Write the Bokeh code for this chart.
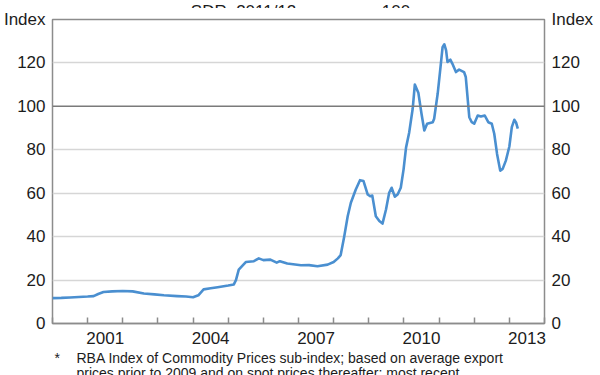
from bokeh.plotting import figure
from bokeh.models import FixedTicker, CustomJSTickFormatter, LinearAxis, Span, Label, Range1d
from bokeh.layouts import column
from bokeh.embed import file_html
from bokeh.resources import INLINE

# ---- data (decimal year, index SDR 2011/12 avg = 100) ----
dates = [2000.00, 2000.25, 2000.50, 2000.75, 2001.00, 2001.17, 2001.30, 2001.45, 2001.70, 2002.00,
         2002.28, 2002.60, 2002.90, 2003.17, 2003.55, 2003.80, 2004.00, 2004.15, 2004.30, 2004.50,
         2004.70, 2005.00, 2005.16, 2005.22, 2005.30, 2005.50, 2005.73, 2005.87, 2006.00, 2006.20,
         2006.38, 2006.47, 2006.68, 2007.07, 2007.30, 2007.54, 2007.83, 2008.00, 2008.12, 2008.20,
         2008.30, 2008.40, 2008.49, 2008.63, 2008.75, 2008.85, 2008.97, 2009.04, 2009.10, 2009.20,
         2009.30, 2009.39, 2009.49, 2009.58, 2009.65, 2009.74, 2009.82, 2009.91, 2009.99, 2010.06,
         2010.15, 2010.25, 2010.31, 2010.41, 2010.50, 2010.58, 2010.66, 2010.82, 2010.86, 2010.96,
         2011.04, 2011.10, 2011.15, 2011.20, 2011.24, 2011.32, 2011.38, 2011.48, 2011.57, 2011.71,
         2011.76, 2011.86, 2011.93, 2012.00, 2012.10, 2012.19, 2012.30, 2012.40, 2012.50, 2012.57,
         2012.65, 2012.74, 2012.81, 2012.90, 2013.00, 2013.07, 2013.14, 2013.19, 2013.24]
index = [11.7, 11.8, 12.0, 12.2, 12.4, 12.6, 13.6, 14.5, 14.8, 15.0,
         14.8, 13.8, 13.4, 13.0, 12.6, 12.4, 12.1, 13.0, 15.7, 16.2,
         16.7, 17.5, 18.0, 20.0, 24.8, 28.3, 28.7, 30.0, 29.2, 29.4,
         28.0, 28.7, 27.6, 26.8, 26.9, 26.4, 27.1, 28.3, 30.0, 31.5,
         40.0, 49.4, 55.6, 61.7, 66.0, 65.6, 59.4, 58.6, 58.9, 49.4,
         47.2, 46.0, 52.5, 60.2, 62.5, 58.4, 59.4, 62.5, 71.0, 81.0,
         88.0, 99.0, 110.0, 106.3, 96.6, 88.9, 92.0, 92.7, 94.3, 105.8,
         118.0, 127.3, 128.6, 125.8, 120.4, 121.5, 119.6, 115.8, 116.9, 115.8,
         113.5, 95.0, 92.7, 92.0, 95.8, 95.3, 95.8, 92.7, 92.0, 87.4,
         78.1, 70.4, 71.2, 75.0, 81.5, 90.4, 93.8, 92.6, 89.7]

year_boundaries = list(range(2000, 2015))
year_labels = [2001, 2004, 2007, 2010, 2013]
y_ticks = [0, 20, 40, 60, 80, 100, 120, 140]
y_grid = [20, 40, 60, 80, 120]
reference_level = 100
title_text = "SDR, 2011/12 average = 100"
foot_star = "*"
foot_lines = ["RBA Index of Commodity Prices sub-index; based on average export",
              "prices prior to 2009 and on spot prices thereafter; most recent"]

FONT = "Liberation Sans"
TXT = "#1c1c1c"
GRAY = "#8c8c8c"
W = 600


def text_strip(height):
    f = figure(width=W, height=height, output_backend="svg", toolbar_location=None,
               x_range=Range1d(0, 1), y_range=Range1d(0, 1),
               x_axis_location=None, y_axis_location=None,
               min_border=0, min_border_left=0, min_border_right=0, min_border_top=0, min_border_bottom=0)
    f.grid.visible = False
    f.outline_line_color = None
    f.background_fill_color = "white"
    f.border_fill_color = "white"
    return f


def note(fig, x, y, text, size, align="left"):
    # x, y in pixels from the (column-aligned) plot frame's left / bottom edge
    fig.add_layout(Label(x=x, y=y, x_units="screen", y_units="screen", text=text,
                         text_align=align, text_baseline="alphabetic",
                         text_font=FONT, text_font_size=size, text_color=TXT))


# ---- top strip: title, cut at the top as in the original ----
top = text_strip(8)
note(top, 248, 1, title_text, "17px", align="center")

# ---- main chart ----
p = figure(width=W, height=339, output_backend="svg", toolbar_location=None,
           x_range=Range1d(2000, 2014), y_range=Range1d(0, 140),
           min_border_left=52, min_border_right=56, min_border_top=11, min_border_bottom=24,
           x_axis_location=None, y_axis_location=None)
p.background_fill_color = "white"
p.border_fill_color = "white"
p.outline_line_color = GRAY
p.outline_line_width = 1.5

p.xgrid.visible = False
p.ygrid.ticker = FixedTicker(ticks=y_grid)
p.ygrid.grid_line_color = "#d6d6d6"
p.ygrid.grid_line_width = 1.5
p.add_layout(Span(location=reference_level, dimension="width", line_color="#7a7a7a", line_width=1.5))

# bottom axis: labels at mid-year, inner tick marks at year boundaries
xax = LinearAxis(ticker=FixedTicker(ticks=[y + 0.5 for y in year_labels], minor_ticks=year_boundaries),
                 formatter=CustomJSTickFormatter(code="return Math.floor(tick).toString();"))
xax.axis_line_color = GRAY
xax.axis_line_width = 1.5
xax.major_tick_line_color = None
xax.minor_tick_in = 6
xax.minor_tick_out = 0
xax.minor_tick_line_color = GRAY
xax.minor_tick_line_width = 1.5
xax.major_label_standoff = 2
xax.major_label_text_font = FONT
xax.major_label_text_font_size = "17px"
xax.major_label_text_color = TXT
p.add_layout(xax, "below")

yfmt = "return tick == 140 ? 'Index' : tick.toString();"
for side in ("left", "right"):
    ax = LinearAxis(ticker=FixedTicker(ticks=y_ticks), formatter=CustomJSTickFormatter(code=yfmt))
    ax.axis_line_color = None
    ax.major_tick_line_color = None
    ax.major_tick_in = 0
    ax.major_tick_out = 0
    ax.minor_tick_line_color = None
    ax.minor_tick_in = 0
    ax.minor_tick_out = 0
    ax.major_label_standoff = 7
    ax.major_label_text_font = FONT
    ax.major_label_text_font_size = "17px"
    ax.major_label_text_color = TXT
    p.add_layout(ax, side)

p.line(dates, index, line_color="#4a8fd0", line_width=2.6, line_join="round")

# ---- bottom strip: footnote ----
foot = text_strip(28)
note(foot, 2, 18, foot_star, "14px")
note(foot, 24, 18, foot_lines[0], "14px")
note(foot, 24, 3, foot_lines[1], "14px")

page = column(top, p, foot, spacing=0)
open("out.html", "w").write(file_html(page, INLINE))
